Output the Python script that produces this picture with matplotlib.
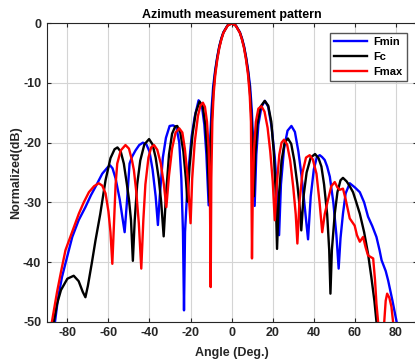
import matplotlib
matplotlib.use("Agg")
import matplotlib.pyplot as plt

# ---------------- data ----------------
fmin_angle = [-86.5, -86.0, -84.5, -82.6, -80.0, -77.6, -74.5, -71.2, -68.5, -66.3, -63.0, -60.3, -59.2,
              -58.0, -56.5, -54.5, -53.2, -52.1, -51.0, -49.7, -48.4, -46.8, -45.0, -43.2, -41.5, -40.0,
              -38.5, -37.0, -35.9, -35.0, -33.5, -32.0, -30.2, -28.5, -26.9, -25.5, -24.5, -23.7, -23.2,
              -22.7, -21.3, -19.5, -18.0, -16.1, -14.5, -13.3, -12.3, -11.2,
              -10.5, -9.8, -9.0, -8.0, -7.0, -6.0, -5.0, -4.0, -2.0, 0.0, 2.0, 4.0, 5.0, 6.0, 7.0, 8.0,
              9.0, 9.8, 10.5, 11.2,
              12.0, 13.0, 14.5, 16.2, 17.8, 19.5, 21.0, 22.3, 23.1, 24.0, 25.5, 27.2, 29.1, 30.8, 32.5,
              34.0, 35.5, 37.2, 38.5, 40.0, 41.5, 42.9, 44.0, 45.3, 46.5, 47.8, 49.5, 51.0, 52.1, 53.0,
              54.2, 55.5, 57.5, 60.0, 62.4, 64.5, 66.4, 68.5, 70.5, 72.0, 73.0, 75.0, 76.2, 78.3, 80.3, 81.0]
fmin_db = [-52.0, -50.0, -46.0, -42.5, -39.0, -35.8, -33.0, -30.8, -28.8, -27.4, -25.2, -24.1, -23.8,
           -24.3, -26.0, -29.5, -32.5, -35.0, -30.0, -23.5, -22.3, -21.3, -20.4, -20.0, -20.3, -21.5,
           -24.5, -29.0, -33.8, -29.0, -22.5, -19.2, -17.2, -17.1, -17.4, -20.0, -26.0, -35.0, -48.1,
           -35.0, -25.7, -19.0, -15.7, -12.9, -13.8, -17.0, -22.0, -30.5,
           -20.0, -14.5, -10.6, -7.8, -5.6, -3.8, -2.5, -1.5, -0.35, 0.0, -0.35, -1.5, -2.5, -3.8, -5.6, -7.8,
           -10.6, -14.5, -20.0, -30.6,
           -22.0, -17.0, -14.0, -13.0, -14.0, -17.5, -22.5, -29.0, -35.5, -27.0, -21.0, -18.0, -17.2, -18.2, -21.5,
           -25.5, -30.5, -36.2, -29.0, -24.5, -22.4, -22.1, -22.4, -22.9, -24.0, -25.7, -30.0, -35.5, -41.1, -36.0,
           -31.9, -28.5, -26.8, -27.5, -28.3, -30.0, -32.4, -34.0, -35.8, -38.0, -39.7, -41.5, -43.1, -46.5, -50.0, -52.0]

fc_angle = [-87.2, -86.6, -85.0, -83.1, -80.0, -76.9, -74.5, -72.5, -71.2, -70.0, -68.0, -66.3, -64.0,
            -61.4, -59.0, -57.0, -55.6, -54.0, -52.5, -51.0, -50.0, -49.0, -48.1, -47.2, -46.0, -44.5,
            -42.5, -40.2, -38.5, -37.0, -35.5, -34.3, -33.1, -32.0, -30.5, -29.0, -27.5, -26.5, -25.0,
            -23.5, -22.3, -21.5, -20.5, -19.0, -17.5, -15.6, -14.0, -12.8, -11.8, -10.8,
            -10.2, -9.5, -8.8, -8.0, -7.0, -6.0, -5.0, -4.0, -2.0, 0.0, 2.0, 4.0, 5.0, 6.0, 7.0, 8.0, 8.8,
            9.5, 10.2, 10.8,
            11.5, 12.5, 14.0, 16.1, 17.8, 19.3, 20.5, 21.4, 22.1, 23.0, 24.3, 25.8, 27.4, 29.0, 30.5,
            32.0, 33.2, 33.9, 35.0, 36.5, 38.5, 40.6, 42.3, 43.7, 45.0, 46.5, 47.5, 48.1, 48.8, 50.2,
            51.5, 53.0, 54.2, 56.0, 57.5, 59.1, 60.5, 62.4, 64.5, 66.4, 68.0, 69.5, 70.5, 71.0]
fc_db = [-52.0, -50.0, -47.0, -44.7, -42.8, -42.3, -43.2, -45.0, -45.9, -44.0, -40.0, -36.4, -32.0,
         -26.3, -22.6, -21.1, -20.8, -21.5, -23.5, -27.0, -29.5, -33.0, -39.8, -33.0, -27.0, -23.0,
         -20.3, -19.4, -20.3, -22.5, -26.0, -30.0, -35.7, -29.0, -22.0, -18.5, -17.3, -17.2, -18.3,
         -21.5, -26.0, -29.9, -24.0, -18.5, -15.0, -13.1, -14.0, -17.0, -22.0, -30.0,
         -20.0, -15.0, -11.0, -8.2, -5.8, -3.95, -2.6, -1.55, -0.37, 0.0, -0.37, -1.55, -2.6, -3.95, -5.8, -8.2, -11.0,
         -15.0, -20.0, -29.0,
         -22.0, -17.0, -14.0, -13.0, -13.8, -16.5, -21.5, -28.0, -37.8, -29.0, -23.0, -20.0, -19.3, -20.2, -23.0,
         -27.0, -31.0, -34.7, -29.0, -25.0, -22.5, -21.9, -22.6, -24.0, -27.0, -32.0, -38.0, -45.3, -38.0, -31.9,
         -28.3, -26.3, -25.9, -26.5, -27.3, -28.3, -29.8, -31.9, -35.0, -38.6, -42.5, -46.5, -50.0, -52.0]

fmax_angle = [-88.0, -87.5, -85.0, -83.0, -80.9, -77.5, -74.4, -72.0, -69.5, -67.0, -64.7, -63.0, -61.4,
              -60.0, -59.0, -58.1, -57.2, -56.5, -55.7, -54.0, -51.7, -50.0, -48.5, -47.6, -46.5, -45.2,
              -44.0, -43.0, -42.0, -40.5, -39.2, -37.8, -36.2, -34.5, -33.0, -31.8, -30.5, -29.0, -27.3,
              -25.5, -24.0, -22.8, -21.5, -20.0, -19.2, -18.0, -16.4, -15.2, -14.0, -13.0, -12.0, -11.2,
              -10.6, -10.2,
              -9.9, -9.4, -8.8, -8.0, -7.0, -6.0, -5.0, -4.0, -2.0, 0.0, 2.0, 4.0, 5.0, 6.0, 7.0, 8.0, 8.8,
              9.4, 9.9,
              10.3, 10.9, 11.8, 13.0, 14.5, 16.0, 17.5, 18.8, 20.0, 21.0, 22.0, 23.2, 24.3, 25.5, 27.0,
              28.5, 30.0, 31.2, 32.0, 33.0, 34.5, 36.2, 38.0, 39.5, 41.3, 42.8, 44.1, 45.3, 46.9, 48.5,
              50.2, 51.5, 52.6, 54.2, 55.5, 57.5, 59.9, 61.0, 62.4, 64.0, 65.2, 66.4, 68.9, 69.8, 70.5,
              71.3, 72.0, 73.8, 74.3, 75.0, 75.7, 76.8, 77.8, 78.6, 79.2]
fmax_db = [-52.0, -50.0, -45.0, -41.5, -38.0, -34.8, -31.9, -30.0, -28.3, -27.3, -26.8, -27.2, -28.5,
           -31.5, -35.0, -40.3, -33.0, -27.0, -23.5, -21.3, -20.4, -21.0, -23.0, -24.6, -28.0, -33.5,
           -41.1, -33.0, -27.0, -22.5, -20.8, -20.4, -21.2, -23.5, -27.0, -30.8, -25.5, -21.0, -18.3,
           -17.6, -18.3, -21.0, -25.5, -33.5, -26.0, -20.0, -15.5, -13.8, -13.3, -14.0, -16.5, -21.0,
           -28.0, -44.2,
           -26.0, -16.5, -12.0, -8.7, -6.1, -4.1, -2.7, -1.6, -0.4, 0.0, -0.4, -1.6, -2.7, -4.1, -6.1, -8.7, -12.0,
           -16.5, -39.4,
           -28.0, -21.0, -16.5, -14.3, -13.9, -14.8, -17.5, -21.5, -26.5, -33.0, -27.0, -22.0, -20.0, -19.5, -20.3,
           -23.0, -27.5, -32.0, -36.9, -30.0, -25.0, -22.5, -22.1, -22.8, -25.2, -30.0, -35.0, -32.0, -29.6, -27.3,
           -26.6, -27.5, -27.9, -27.7, -29.5, -32.7, -33.9, -35.5, -36.6, -35.8, -37.5, -38.9, -39.4, -43.0, -47.0,
           -50.0, -52.0, -52.0, -50.0, -46.5, -45.3, -46.0, -47.5, -50.0, -52.0]

series_labels = ["Fmin", "Fc", "Fmax"]
x_ticks = [-80, -60, -40, -20, 0, 20, 40, 60, 80]
y_ticks = [0, -10, -20, -30, -40, -50]

# ---------------- plotting ----------------
plt.rcParams['font.family'] = ['Liberation Sans', 'DejaVu Sans']
plt.rcParams['axes.unicode_minus'] = False

W, H = 415, 362
fig = plt.figure(figsize=(W / 100, H / 100), dpi=100)
ax = fig.add_axes([46.8 / W, (H - 321.7) / H, 369.7 / W, 298.4 / H])

dark = '#262626'
lw = 1.7
ax.plot(fmin_angle, fmin_db, color='#0000ff', lw=lw, label=series_labels[0], solid_joinstyle='round')
ax.plot(fc_angle, fc_db, color='#000000', lw=lw, label=series_labels[1], solid_joinstyle='round')
ax.plot(fmax_angle, fmax_db, color='#ff0000', lw=lw, label=series_labels[2], solid_joinstyle='round')

ax.set_xlim(-90, 90)
ax.set_ylim(-50, 0)
ax.set_xticks(x_ticks)
ax.set_yticks(y_ticks)
ax.set_xticklabels([str(v) for v in x_ticks], fontweight='bold', fontsize=9, color=dark)
ax.set_yticklabels([str(v) for v in y_ticks], fontweight='bold', fontsize=9, color=dark)
ax.tick_params(direction='in', length=3, width=0.8, top=True, right=True, colors=dark, pad=4)
ax.grid(True, color='#d4d4d4', lw=0.8)
ax.set_axisbelow(True)
for s in ax.spines.values():
    s.set_color(dark)
    s.set_linewidth(0.8)

ax.set_title('Azimuth measurement pattern', fontsize=9, fontweight='bold', color='black', pad=4)
ax.set_xlabel('Angle (Deg.)', fontsize=9, fontweight='bold', color=dark, labelpad=5.5)
ax.set_ylabel('Normalized(dB)', fontsize=9, fontweight='bold', color=dark, labelpad=0.5)

leg = ax.legend(loc='upper right', bbox_to_anchor=(0.974, 0.9675), borderaxespad=0,
                prop={'weight': 'bold', 'size': 8}, fancybox=False, framealpha=1,
                edgecolor='#555555', handlelength=3.0, handletextpad=0.6,
                labelspacing=0.45, borderpad=0.35)
leg.get_frame().set_linewidth(1.0)

fig.savefig('out.png', dpi=100)
